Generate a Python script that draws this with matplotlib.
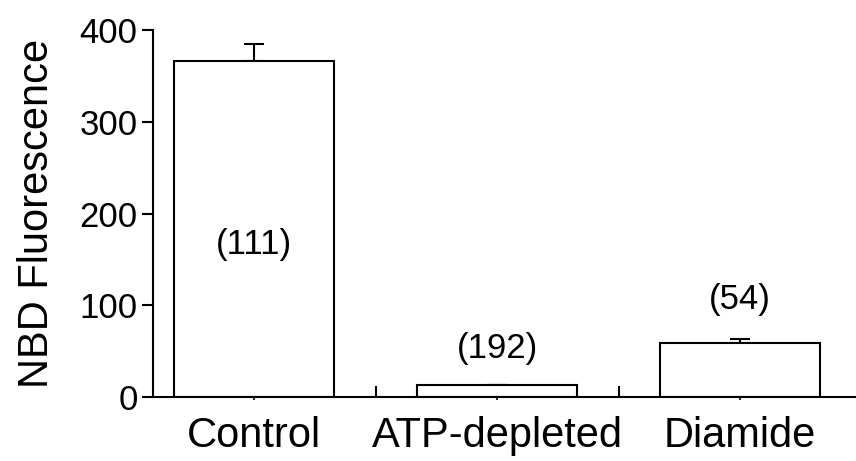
import matplotlib.pyplot as plt

plt.rcParams['font.family'] = ['Liberation Sans', 'DejaVu Sans']

# data
groups = ['Control', 'ATP-depleted', 'Diamide']
means = [366, 13, 59]
errors = [19, 0, 4]
n_cells = ['(111)', '(192)', '(54)']
label_y = [166, 53, 106]

fig = plt.figure(figsize=(8.56, 4.61), dpi=100)
ax = fig.add_axes([153 / 856, 64 / 461, 703 / 856, 367 / 461])

x = list(range(len(groups)))
ax.bar(x, means, width=0.66, color='white', edgecolor='black', linewidth=1.5, zorder=2)
ax.errorbar(x, means, yerr=[[0] * len(errors), errors], fmt='none', ecolor='black',
            elinewidth=1.5, capsize=7.5, capthick=1.5, zorder=1)

for xi, txt, yy in zip(x, n_cells, label_y):
    ax.text(xi, yy, txt, ha='center', va='center', fontsize=25)

ax.set_xlim(-0.416, 2.477)
ax.set_ylim(0, 400)
ax.set_yticks([0, 100, 200, 300, 400])
ax.set_xticks(x)
ax.set_xticklabels(groups, fontsize=30)
ax.set_xticks([0.5, 1.5], minor=True)
ax.tick_params(axis='x', which='major', length=2, width=1.2, pad=12)
ax.tick_params(axis='x', which='minor', direction='in', length=8, width=1.5)
ax.tick_params(axis='y', labelsize=25, length=8, width=1.5, pad=3)
ax.set_ylabel('NBD Fluorescence', fontsize=30, labelpad=16)

for s in ['top', 'right']:
    ax.spines[s].set_visible(False)
for s in ['left', 'bottom']:
    ax.spines[s].set_linewidth(1.5)

fig.savefig('out.png', dpi=100)
